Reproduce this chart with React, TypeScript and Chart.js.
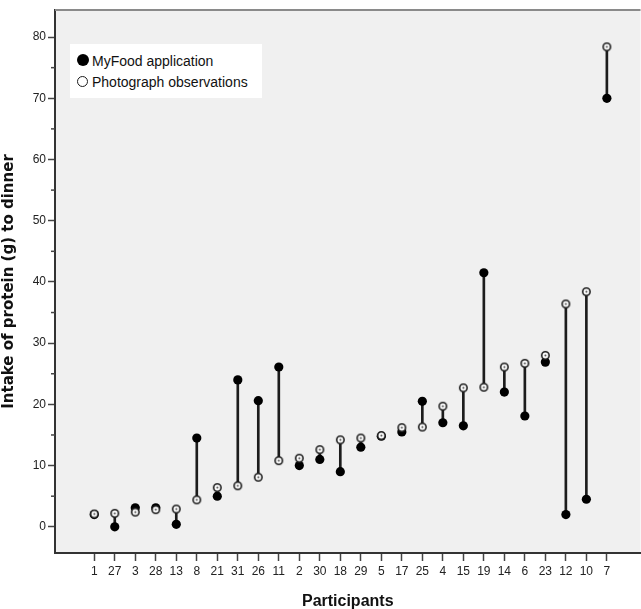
import { useEffect, useRef } from "react";
import { Chart, registerables } from "chart.js";

Chart.register(...registerables);

// Participants, ordered along the x axis
const participants = [
  "1", "27", "3", "28", "13", "8", "21", "31", "26", "11", "2", "30", "18",
  "29", "5", "17", "25", "4", "15", "19", "14", "6", "23", "12", "10", "7",
];

// Protein intake at dinner (g), registered with the MyFood app
const myFoodProtein = [
  2.0, 0.0, 3.1, 3.1, 0.4, 14.5, 5.0, 24.0, 20.6, 26.1, 10.0, 11.0, 9.0,
  13.0, 14.8, 15.5, 20.5, 17.0, 16.5, 41.5, 22.0, 18.1, 26.9, 2.0, 4.5, 70.0,
];

// Protein intake at dinner (g), from photograph observations
const photoProtein = [
  2.1, 2.2, 2.4, 2.8, 2.9, 4.4, 6.4, 6.7, 8.1, 10.8, 11.2, 12.6, 14.2,
  14.5, 14.9, 16.2, 16.3, 19.7, 22.7, 22.8, 26.1, 26.7, 28.0, 36.4, 38.4, 78.4,
];

const yMajorTicks = [0, 10, 20, 30, 40, 50, 60, 70, 80];
const yMinorTicks = [5, 15, 25, 35, 45, 55, 65, 75];

const SANS = "'Liberation Sans', Arial, sans-serif";
const INK = "#1c1c1c";

function ringMarker(): HTMLCanvasElement {
  const c = document.createElement("canvas");
  c.width = 11;
  c.height = 11;
  const ctx = c.getContext("2d")!;
  ctx.beginPath();
  ctx.arc(5.5, 5.5, 3.7, 0, Math.PI * 2);
  ctx.fillStyle = "#ffffff";
  ctx.fill();
  ctx.lineWidth = 1.6;
  ctx.strokeStyle = INK;
  ctx.stroke();
  ctx.beginPath();
  ctx.arc(5.5, 5.5, 1.0, 0, Math.PI * 2);
  ctx.fillStyle = "#444";
  ctx.fill();
  return c;
}

// Plot-area fill, top frame line and the short minor ticks on the y axis
const frame = {
  id: "frame",
  beforeDraw(chart: any) {
    const { ctx, chartArea: a } = chart;
    ctx.save();
    ctx.fillStyle = "#f0f0f0";
    ctx.fillRect(a.left, a.top, a.right - a.left, a.bottom - a.top);
    ctx.restore();
  },
  afterDraw(chart: any) {
    const { ctx, chartArea: a, scales } = chart;
    ctx.save();
    ctx.strokeStyle = "#8a8a8a";
    ctx.lineWidth = 2;
    ctx.beginPath();
    ctx.moveTo(a.left, a.top);
    ctx.lineTo(a.right, a.top);
    ctx.stroke();
    ctx.strokeStyle = "#444";
    ctx.lineWidth = 1.5;
    for (const v of yMinorTicks) {
      const y = scales.y.getPixelForValue(v);
      ctx.beginPath();
      ctx.moveTo(a.left - 4, y);
      ctx.lineTo(a.left, y);
      ctx.stroke();
    }
    ctx.restore();
  },
};

export default function App() {
  const ref = useRef<HTMLCanvasElement>(null);

  useEffect(() => {
    if (!ref.current) return;
    const ring = ringMarker();
    const chart = new Chart(ref.current, {
      type: "scatter",
      data: {
        datasets: [
          {
            type: "bar",
            label: "difference",
            data: participants.map((_, i) => ({ x: i, y: [myFoodProtein[i], photoProtein[i]] })) as any,
            backgroundColor: INK,
            borderWidth: 0,
            barThickness: 2,
            order: 3,
          } as any,
          {
            label: "MyFood application",
            data: participants.map((_, i) => ({ x: i, y: myFoodProtein[i] })),
            pointStyle: "circle",
            pointRadius: 4.6,
            backgroundColor: "#000",
            borderColor: "#000",
            borderWidth: 0,
            order: 2,
          },
          {
            label: "Photograph observations",
            data: participants.map((_, i) => ({ x: i, y: photoProtein[i] })),
            pointStyle: ring as any,
            pointRadius: 4.5,
            order: 1,
          },
        ],
      },
      options: {
        animation: false,
        responsive: false,
        layout: { padding: { top: 10, right: 0, left: 0, bottom: 0 } },
        plugins: {
          legend: { display: false },
          tooltip: { enabled: false },
        },
        scales: {
          x: {
            type: "linear",
            offset: false,
            min: -1.915,
            max: 26.64,
            afterBuildTicks: (axis: any) => {
              axis.ticks = participants.map((_, i) => ({ value: i }));
            },
            afterFit: (s: any) => {
              s.height = 56;
            },
            ticks: {
              autoSkip: false,
              maxRotation: 0,
              padding: 3,
              color: "#222",
              font: { family: SANS, size: 12 },
              callback: (v: any) => participants[v as number] ?? "",
            },
            grid: {
              offset: false,
              drawOnChartArea: false,
              tickLength: 8,
              tickColor: "#444",
              tickWidth: 1.5,
            },
            border: { color: "#333", width: 2 },
            title: {
              display: true,
              text: "Participants",
              color: "#111",
              padding: { top: 0, bottom: -2 },
              font: { family: SANS, size: 16, weight: "bold" },
            },
          },
          y: {
            type: "linear",
            beginAtZero: false,
            min: -4.28,
            max: 84.42,
            afterBuildTicks: (axis: any) => {
              axis.ticks = yMajorTicks.map((v) => ({ value: v }));
            },
            afterFit: (s: any) => {
              s.width = 55;
              s.paddingTop = 0;
              s.paddingBottom = 0;
            },
            ticks: {
              padding: 2,
              color: "#222",
              font: { family: SANS, size: 12 },
            },
            grid: {
              drawOnChartArea: false,
              tickLength: 7,
              tickColor: "#444",
              tickWidth: 1.5,
            },
            border: { color: "#333", width: 2 },
            title: {
              display: true,
              text: "Intake of protein (g) to dinner",
              color: "#111",
              padding: { top: 0, bottom: 0 },
              font: { family: "'DejaVu Sans', Verdana, sans-serif", size: 15, weight: "bold" },
            },
          },
        },
      },
      plugins: [frame],
    });
    return () => chart.destroy();
  }, []);

  const legendText: React.CSSProperties = {
    position: "absolute",
    left: 92,
    font: `14px ${SANS}`,
    lineHeight: "21px",
    color: "#111",
    whiteSpace: "nowrap",
  };

  return (
    <div
      style={{
        position: "fixed",
        left: 0,
        top: 0,
        width: 641,
        height: 609,
        overflow: "hidden",
        background: "#fff",
      }}
    >
      {/* the plot frame runs off the right edge */}
      <canvas ref={ref} width={646} height={609} style={{ display: "block" }} />
      <div
        style={{
          position: "absolute",
          left: 70,
          top: 44,
          width: 192,
          height: 54,
          background: "#fff",
        }}
      />
      <span
        style={{
          position: "absolute",
          left: 76.5,
          top: 54,
          width: 12,
          height: 12,
          borderRadius: "50%",
          background: "#000",
        }}
      />
      <span
        style={{
          position: "absolute",
          left: 76.5,
          top: 75.5,
          width: 9,
          height: 9,
          borderRadius: "50%",
          background: "#fff",
          border: `1.5px solid ${INK}`,
        }}
      />
      <div style={{ ...legendText, top: 51 }}>MyFood application</div>
      <div style={{ ...legendText, top: 72 }}>Photograph observations</div>
    </div>
  );
}
